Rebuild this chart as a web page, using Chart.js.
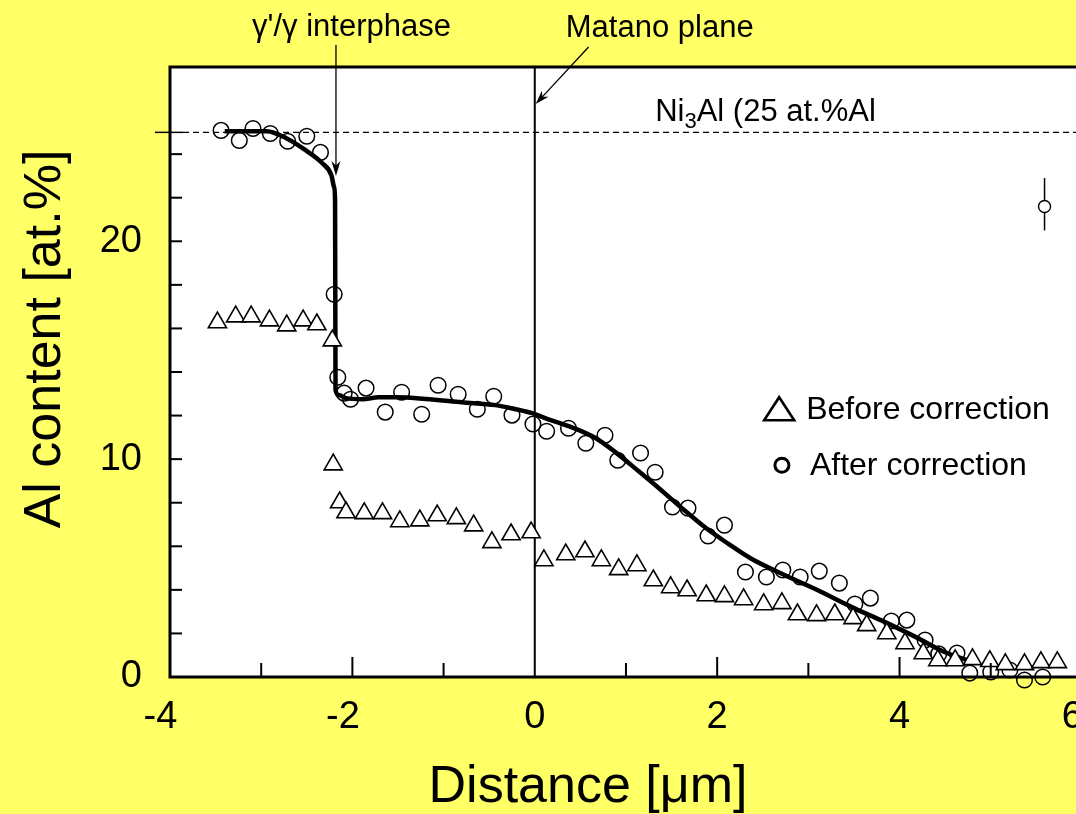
<!DOCTYPE html>
<html>
<head>
<meta charset="utf-8">
<title>Al content profile</title>
<script src="https://cdn.jsdelivr.net/npm/chart.js@4.4.1/dist/chart.umd.min.js"></script>
<style>
  html, body { margin: 0; padding: 0; background: #ffff66; overflow: hidden; }
  #wrap { width: 1120px; height: 814px; }
</style>
</head>
<body>
<div id="wrap"><canvas id="chart" width="1120" height="814"></canvas></div>
<script>
// Al profile across the gamma'/gamma couple — measured points before/after correction + fitted curve.
const FONT = '"Liberation Sans", Arial, Helvetica, sans-serif';

const beforeX = [-3.48, -3.28, -3.11, -2.91, -2.72, -2.54, -2.39, -2.22, -2.21, -2.14, -2.07, -1.87, -1.67, -1.48, -1.26, -1.07, -0.86, -0.67, -0.47, -0.26, -0.04,
  0.10, 0.34, 0.55, 0.73, 0.92, 1.12, 1.30, 1.49, 1.67, 1.88, 2.08, 2.29, 2.51, 2.71, 2.88, 3.09, 3.29, 3.49, 3.64, 3.86, 4.06, 4.26, 4.42, 4.61, 4.80, 4.99, 5.16, 5.37, 5.55, 5.73];
const beforeY = [16.27, 16.54, 16.54, 16.36, 16.13, 16.36, 16.18, 15.44, 9.75, 8.01, 7.55, 7.51, 7.51, 7.14, 7.18, 7.41, 7.28, 6.95, 6.18, 6.54, 6.63,
  5.35, 5.62, 5.76, 5.35, 4.94, 5.12, 4.43, 4.11, 3.97, 3.74, 3.70, 3.56, 3.33, 3.38, 2.87, 2.83, 2.87, 2.69, 2.37, 2.00, 1.54, 1.08, 0.76, 0.76, 0.81, 0.72, 0.58, 0.58, 0.67, 0.67];

const afterX = [-3.44, -3.24, -3.09, -2.90, -2.71, -2.50, -2.35, -2.20, -2.16, -2.09, -2.02, -1.85, -1.64, -1.46, -1.24, -1.06, -0.84, -0.63, -0.45, -0.25, -0.02,
  0.13, 0.37, 0.56, 0.77, 0.91, 1.16, 1.32, 1.51, 1.68, 1.90, 2.08, 2.31, 2.54, 2.72, 2.91, 3.12, 3.34, 3.51, 3.68, 3.91, 4.08, 4.28, 4.43, 4.63, 4.77, 5.00, 5.21, 5.37, 5.57];
const afterY = [25.09, 24.63, 25.18, 24.95, 24.59, 24.82, 24.08, 17.57, 13.76, 13.03, 12.75, 13.26, 12.16, 13.07, 12.06, 13.39, 12.98, 12.29, 12.89, 12.02, 11.61,
  11.28, 11.42, 10.73, 11.10, 9.95, 10.28, 9.40, 7.80, 7.75, 6.47, 6.97, 4.82, 4.59, 4.91, 4.59, 4.86, 4.31, 3.35, 3.62, 2.57, 2.61, 1.70, 1.06, 1.10, 0.18, 0.23, 0.32, -0.14, 0.00];

// fitted profile
const fitX = [-3.40, -2.94, -2.72, -2.51, -2.33, -2.23, -2.20, -2.19, -2.185, -2.15, -2.07, -1.89, -1.71, -1.52, -1.16, -0.80, -0.43, -0.21, -0.03,
  0.15, 0.40, 0.67, 0.89, 1.14, 1.39, 1.61, 1.87, 2.12, 2.37, 2.75, 3.11, 3.47, 3.84, 4.18, 4.48, 4.75];
const fitY = [25.05, 25.05, 24.72, 24.17, 23.58, 23.03, 22.48, 21.88, 13.17, 12.94, 12.80, 12.75, 12.84, 12.84, 12.75, 12.61, 12.48, 12.29, 12.11,
  11.83, 11.47, 10.96, 10.30, 9.44, 8.56, 7.76, 6.86, 6.12, 5.44, 4.66, 3.97, 3.22, 2.52, 1.83, 1.17, 0.76];

// typical error bar
const errX = [5.59];
const errY = [21.6];
const errLow = [20.5];
const errHigh = [22.9];

const ni3alLevel = 25;
const matanoX = 0;

const pts = (xs, ys) => xs.map((x, i) => ({ x, y: ys[i] }));

function arrow(ctx, x1, y1, x2, y2, len, half) {
  const ang = Math.atan2(y2 - y1, x2 - x1);
  ctx.beginPath(); ctx.moveTo(x1, y1); ctx.lineTo(x2 - Math.cos(ang) * len * 0.6, y2 - Math.sin(ang) * len * 0.6); ctx.stroke();
  ctx.save();
  ctx.translate(x2, y2); ctx.rotate(ang);
  ctx.beginPath();
  ctx.moveTo(0, 0); ctx.lineTo(-len, -half); ctx.lineTo(-len * 0.7, 0); ctx.lineTo(-len, half); ctx.closePath();
  ctx.fill();
  ctx.restore();
}

const decor = {
  id: 'decor',
  beforeDraw(chart) {
    const { ctx, chartArea: a } = chart;
    ctx.save();
    ctx.fillStyle = '#ffff66'; ctx.fillRect(0, 0, chart.width, chart.height);
    ctx.fillStyle = '#fff'; ctx.fillRect(a.left, a.top, a.right - a.left, a.bottom - a.top);
    ctx.restore();
  },
  beforeDatasetsDraw(chart) {
    const { ctx, chartArea: a, scales: { x, y } } = chart;
    ctx.save();
    ctx.strokeStyle = '#000';
    const yl = y.getPixelForValue(ni3alLevel);
    ctx.lineWidth = 1.5;
    ctx.beginPath(); ctx.moveTo(a.left - 15, yl); ctx.lineTo(a.left + 13, yl); ctx.stroke();
    ctx.lineWidth = 1.1; ctx.setLineDash([6, 4]);
    ctx.beginPath(); ctx.moveTo(a.left + 13, yl); ctx.lineTo(a.right, yl); ctx.stroke();
    ctx.setLineDash([]);
    const xm = x.getPixelForValue(matanoX);
    ctx.lineWidth = 2;
    ctx.beginPath(); ctx.moveTo(xm, a.top); ctx.lineTo(xm, a.bottom); ctx.stroke();
    ctx.restore();
  },
  afterDatasetsDraw(chart) {
    const { ctx, chartArea: a, scales: { x, y } } = chart;
    ctx.save();
    ctx.strokeStyle = '#000'; ctx.fillStyle = '#000';

    // inward ticks
    ctx.lineWidth = 2;
    x.ticks.forEach(({ value: v }) => {
      if (v <= x.min || v >= x.max || v === matanoX) return;
      const px = x.getPixelForValue(v), len = v % 2 === 0 ? 20 : 14;
      ctx.beginPath(); ctx.moveTo(px, a.bottom); ctx.lineTo(px, a.bottom - len); ctx.stroke();
    });
    y.ticks.forEach(({ value: v }) => {
      if (v <= y.min || v > ni3alLevel) return;
      const py = y.getPixelForValue(v);
      ctx.beginPath(); ctx.moveTo(a.left, py); ctx.lineTo(a.left + 12, py); ctx.stroke();
    });

    // frame
    ctx.lineWidth = 3;
    ctx.strokeRect(a.left, a.top, a.right - a.left, a.bottom - a.top);

    // error bar
    ctx.lineWidth = 1.5;
    const ex = x.getPixelForValue(errX[0]);
    ctx.beginPath(); ctx.moveTo(ex, y.getPixelForValue(errHigh[0])); ctx.lineTo(ex, y.getPixelForValue(errY[0]) - 6); ctx.stroke();
    ctx.beginPath(); ctx.moveTo(ex, y.getPixelForValue(errY[0]) + 6); ctx.lineTo(ex, y.getPixelForValue(errLow[0])); ctx.stroke();

    // annotation arrows
    ctx.lineWidth = 1.3;
    arrow(ctx, x.getPixelForValue(-2.18), 45, x.getPixelForValue(-2.18), y.getPixelForValue(23.0), 15, 4.5);
    arrow(ctx, x.getPixelForValue(0.59), 47, x.getPixelForValue(0.01), y.getPixelForValue(26.3), 14, 4.5);

    // annotation text
    ctx.font = `31px ${FONT}`;
    ctx.textBaseline = 'alphabetic';
    ctx.textAlign = 'center';
    ctx.fillText("γ'/γ interphase", x.getPixelForValue(-2.01), 36);
    ctx.fillText('Matano plane', x.getPixelForValue(1.37), 37);
    ctx.textAlign = 'left';
    let tx = x.getPixelForValue(1.32);
    const tb = 121;
    ctx.fillText('Ni', tx, tb); tx += ctx.measureText('Ni').width;
    ctx.font = `22px ${FONT}`;
    ctx.fillText('3', tx, tb + 7); tx += ctx.measureText('3').width;
    ctx.font = `31px ${FONT}`;
    ctx.fillText('Al (25 at.%Al', tx, tb);

    // legend
    const lx = x.getPixelForValue(2.68), ly = y.getPixelForValue(12.29);
    ctx.lineWidth = 2.6;
    ctx.beginPath(); ctx.moveTo(lx, ly - 12); ctx.lineTo(lx + 15, ly + 11); ctx.lineTo(lx - 15, ly + 11); ctx.closePath(); ctx.stroke();
    const cx = x.getPixelForValue(2.71), cy = y.getPixelForValue(9.72);
    ctx.lineWidth = 3;
    ctx.beginPath(); ctx.arc(cx, cy, 7, 0, Math.PI * 2); ctx.stroke();
    ctx.font = `32px ${FONT}`;
    ctx.textBaseline = 'middle';
    ctx.fillText('Before correction', lx + 27, ly + 1);
    ctx.fillText('After correction', cx + 28, cy + 1);

    // axis titles
    ctx.font = `52px ${FONT}`;
    ctx.textBaseline = 'alphabetic';
    ctx.textAlign = 'center';
    ctx.fillText('Distance [μm]', 588, 802);
    ctx.translate(60, 339); ctx.rotate(-Math.PI / 2);
    ctx.fillText('Al content [at.%]', 0, 0);
    ctx.restore();
  },
};

new Chart(document.getElementById('chart'), {
  type: 'scatter',
  data: {
    datasets: [
      { label: 'Before correction', data: pts(beforeX, beforeY), pointStyle: 'triangle', pointRadius: 10.5, pointHoverRadius: 10.5,
        borderWidth: 1.6, borderColor: '#000', backgroundColor: '#fff', order: 0, clip: false },
      { label: 'After correction', data: pts(afterX, afterY), pointStyle: 'circle', pointRadius: 7.8, pointHoverRadius: 7.8,
        borderWidth: 1.5, borderColor: '#000', backgroundColor: 'rgba(0,0,0,0)', order: 1, clip: false },
      { label: 'Error', data: pts(errX, errY), pointStyle: 'circle', pointRadius: 6, borderWidth: 1.4,
        borderColor: '#000', backgroundColor: 'rgba(0,0,0,0)', order: 1 },
      { label: 'Fit', data: pts(fitX, fitY), showLine: true, pointRadius: 0, borderColor: '#000', borderWidth: 4.5,
        cubicInterpolationMode: 'monotone', order: 2 },
    ],
  },
  options: {
    responsive: false,
    animation: false,
    devicePixelRatio: 1,
    layout: { padding: { left: 0, right: 36, top: 67, bottom: 0 } },
    plugins: { legend: { display: false }, tooltip: { enabled: false } },
    scales: {
      x: {
        type: 'linear', min: -4, max: 6,
        afterFit: (s) => { s.height = 137; },
        grid: { display: false, drawTicks: false },
        border: { display: false },
        ticks: {
          stepSize: 1, autoSkip: false, maxRotation: 0, padding: 18, color: '#000',
          font: { family: FONT, size: 38 },
          // digit centred on the tick, as in the original figure
          callback: (v) => (v % 2 === 0 ? (v < 0 || v === 6 ? v + '\u2002' : String(v)) : ''),
        },
      },
      y: {
        min: 0, max: 28,
        afterFit: (s) => { s.width = 170; },
        grid: { display: false, drawTicks: false },
        border: { display: false },
        ticks: {
          stepSize: 2, autoSkip: false, padding: 28, color: '#000',
          font: { family: FONT, size: 38 },
          callback: (v) => (v % 10 === 0 ? String(v) : ''),
        },
      },
    },
  },
  plugins: [decor],
});
</script>
</body>
</html>
